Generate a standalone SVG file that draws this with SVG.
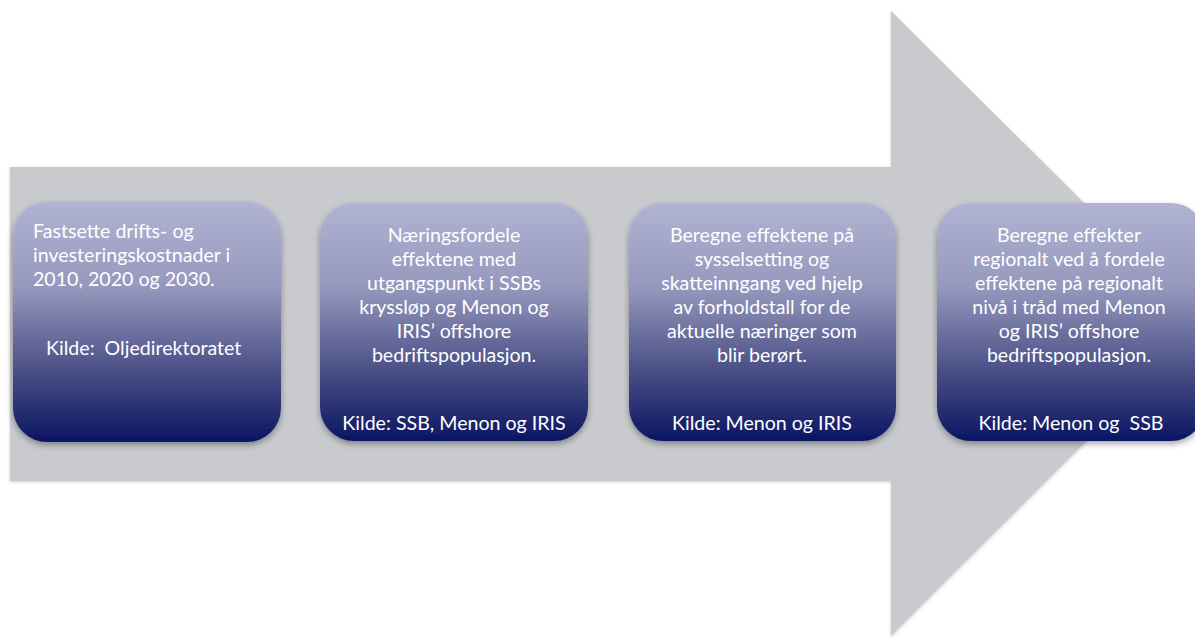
<svg xmlns="http://www.w3.org/2000/svg" width="1195" height="637" viewBox="0 0 1195 637">
<defs>
<linearGradient id="boxGrad" x1="0" y1="0" x2="0" y2="1">
<stop offset="0" stop-color="#b0b3d3"/>
<stop offset="0.35" stop-color="#9699bd"/>
<stop offset="0.7" stop-color="#4b5087"/>
<stop offset="1" stop-color="#0b1562"/>
</linearGradient>
<filter id="shadow" x="-10%" y="-10%" width="120%" height="125%">
<feDropShadow dx="0" dy="3" stdDeviation="3" flood-color="#000" flood-opacity="0.35"/>
</filter>
<filter id="ashadow" x="-5%" y="-5%" width="110%" height="110%">
<feDropShadow dx="0" dy="1" stdDeviation="1.5" flood-color="#000" flood-opacity="0.2"/>
</filter>
</defs>
<style>
.box { fill: url(#boxGrad); filter: url(#shadow); }
.t { font-family: Lato, "Liberation Sans", sans-serif; font-size: 19.6px; fill: #ffffff; }
.c { text-anchor: middle; }
</style>
<rect width="1195" height="637" fill="#ffffff"/>
<g id="arrow">
<polygon points="10,167 891,167 891,11 1205,323 891,636 891,481 10,481" fill="#c9cace" filter="url(#ashadow)"/>
</g>
<g id="connectors"></g>
<g id="node1">
<rect class="box" x="13" y="202" width="268" height="240" rx="34"/>
<text class="t" x="33" y="238">Fastsette drifts- og</text>
<text class="t" x="33" y="262">investeringskostnader i</text>
<text class="t" x="33" y="286">2010, 2020 og 2030.</text>
<text class="t" x="46" y="355" xml:space="preserve">Kilde:  Oljedirektoratet</text>
</g>
<g id="node2">
<rect class="box" x="320" y="203" width="268" height="238" rx="34"/>
<text class="t c" x="454" y="242">Næringsfordele</text>
<text class="t c" x="454" y="266">effektene med</text>
<text class="t c" x="454" y="290">utgangspunkt i SSBs</text>
<text class="t c" x="454" y="314">kryssløp og Menon og</text>
<text class="t c" x="454" y="338">IRIS’ offshore</text>
<text class="t c" x="454" y="362">bedriftspopulasjon.</text>
<text class="t c" x="454" y="430">Kilde: SSB, Menon og IRIS</text>
</g>
<g id="node3">
<rect class="box" x="629" y="203" width="267" height="238" rx="34"/>
<text class="t c" x="762" y="242">Beregne effektene på</text>
<text class="t c" x="762" y="266">sysselsetting og</text>
<text class="t c" x="762" y="290">skatteinngang ved hjelp</text>
<text class="t c" x="762" y="314">av forholdstall for de</text>
<text class="t c" x="762" y="338">aktuelle næringer som</text>
<text class="t c" x="762" y="362">blir berørt.</text>
<text class="t c" x="762" y="430">Kilde: Menon og IRIS</text>
</g>
<g id="node4">
<rect class="box" x="937" y="203" width="268" height="238" rx="34"/>
<text class="t c" x="1069" y="242">Beregne effekter</text>
<text class="t c" x="1069" y="266">regionalt ved å fordele</text>
<text class="t c" x="1069" y="290">effektene på regionalt</text>
<text class="t c" x="1069" y="314">nivå i tråd med Menon</text>
<text class="t c" x="1069" y="338">og IRIS’ offshore</text>
<text class="t c" x="1069" y="362">bedriftspopulasjon.</text>
<text class="t c" x="1071" y="430" xml:space="preserve">Kilde: Menon og  SSB</text>
</g>
</svg>
